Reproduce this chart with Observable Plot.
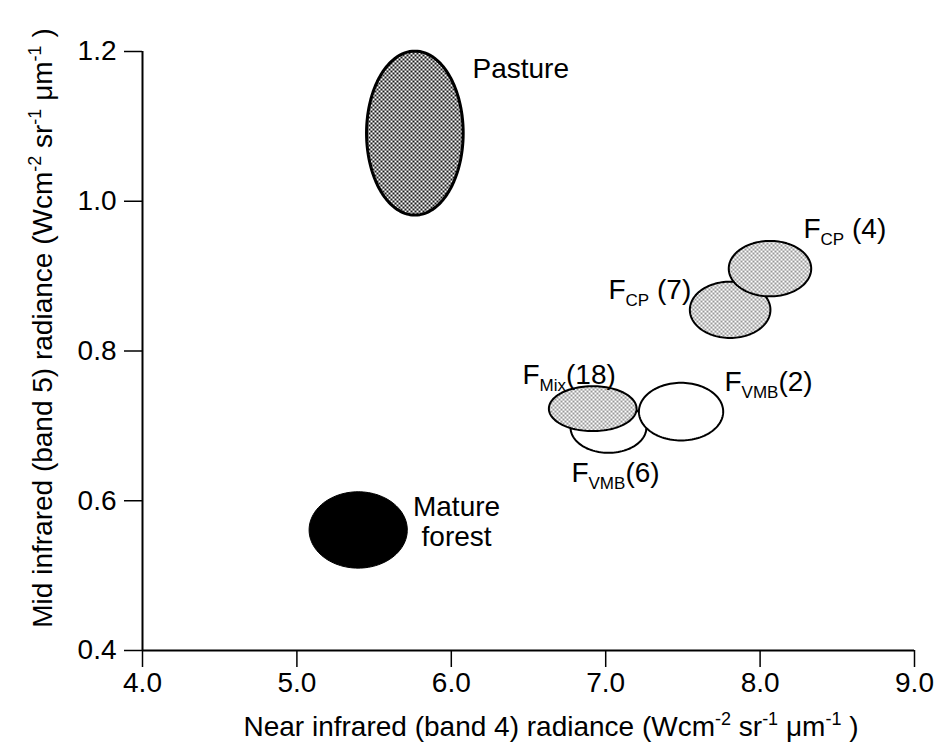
<!DOCTYPE html>
<html><head><meta charset="utf-8">
<script src="https://cdn.jsdelivr.net/npm/d3@7"></script>
<script src="https://cdn.jsdelivr.net/npm/@observablehq/plot@0.6"></script>
<style>body{margin:0;background:#fff;} #chart svg{display:block;}</style>
</head><body><div id="chart"></div>
<script>
// ---- data ----
const ellipseNames = ["Pasture", "Mature forest", "F_VMB(6)", "F_Mix(18)", "F_VMB(2)", "F_CP(7)", "F_CP(4)"];
const centerX = [5.764, 5.397, 7.018, 6.916, 7.488, 7.806, 8.064];
const centerY = [1.091, 0.561, 0.698, 0.723, 0.719, 0.855, 0.910];
const radiusX = [0.313, 0.318, 0.246, 0.284, 0.273, 0.261, 0.267];
const radiusY = [0.1095, 0.051, 0.034, 0.030, 0.0385, 0.0376, 0.037];

const labelTexts = ["Pasture", "F_CP (4)", "F_CP (7)", "F_Mix(18)", "F_VMB(2)", "F_VMB(6)"];
const labelX = [6.137, 8.281, 7.018, 6.461, 7.769, 6.778];
const labelY = [1.177, 0.963, 0.882, 0.768, 0.759, 0.637];
const centeredLabel = ["Mature\nforest"];
const centeredLabelX = [6.034];
const centeredLabelY = [0.573];

const xTicks = [4, 5, 6, 7, 8, 9];
const yTicks = [0.4, 0.6, 0.8, 1.0, 1.2];

// ---- styles ----
const ellipseFill = {"Pasture": "url(#stippleDark)", "Mature forest": "black", "F_VMB(6)": "white",
  "F_Mix(18)": "url(#stippleLight)", "F_VMB(2)": "white", "F_CP(7)": "url(#stippleLight)", "F_CP(4)": "url(#stippleLight)"};
const ellipseStroke = {"Pasture": 3, "Mature forest": 1};

const font = "'Liberation Sans', Arial, Helvetica, sans-serif";

function outline(i) {
  // closed outline of the ellipse defined by centre and radii
  return d3.range(0, 360, 3).map(a => ({
    x: centerX[i] + radiusX[i] * Math.cos(a * Math.PI / 180),
    y: centerY[i] + radiusY[i] * Math.sin(a * Math.PI / 180)
  }));
}

const ellipseMarks = ellipseNames.map((name, i) => Plot.line(outline(i), {
  x: "x", y: "y", curve: "linear-closed",
  fill: ellipseFill[name], stroke: "black", strokeWidth: ellipseStroke[name] ?? 2
}));

const labels = labelTexts.map((t, i) => ({t, x: labelX[i], y: labelY[i]}));
const cLabels = centeredLabel.map((t, i) => ({t, x: centeredLabelX[i], y: centeredLabelY[i]}));

const chart = Plot.plot({
  width: 940, height: 751,
  marginLeft: 142, marginRight: 26, marginTop: 51, marginBottom: 101,
  style: {fontFamily: font, fontSize: "28px", color: "black", background: "white"},
  x: {domain: [4, 9]},
  y: {domain: [0.4, 1.2]},
  marks: [
    ...ellipseMarks,
    Plot.text(labels, {x: "x", y: "y", text: "t", textAnchor: "start", lineAnchor: "middle", fontSize: 28, fill: "black"}),
    Plot.text(cLabels, {x: "x", y: "y", text: "t", textAnchor: "middle", lineAnchor: "middle", fontSize: 28, lineHeight: 1.07, fill: "black"}),
    Plot.ruleX([4], {strokeWidth: 2}),
    Plot.ruleY([0.4], {strokeWidth: 2}),
    Plot.axisX({ticks: xTicks, tickFormat: d => d.toFixed(1), tickSize: 17, tickPadding: 5, fontSize: 28, strokeWidth: 1.5, label: null}),
    Plot.axisY({ticks: yTicks, tickFormat: d => d.toFixed(1), tickSize: 18, tickPadding: 8, fontSize: 28, strokeWidth: 1.5, label: null})
  ]
});

document.getElementById("chart").appendChild(chart);

const svg = d3.select(chart);
// stipple patterns
const defs = svg.insert("defs", ":first-child");
const dark = defs.append("pattern").attr("id", "stippleDark").attr("patternUnits", "userSpaceOnUse").attr("width", 4).attr("height", 4);
dark.append("rect").attr("width", 4).attr("height", 4).attr("fill", "white");
dark.append("rect").attr("x", 0).attr("y", 0).attr("width", 2).attr("height", 2).attr("fill", "#1a1a1a");
dark.append("rect").attr("x", 2).attr("y", 2).attr("width", 2).attr("height", 2).attr("fill", "#1a1a1a");
const light = defs.append("pattern").attr("id", "stippleLight").attr("patternUnits", "userSpaceOnUse").attr("width", 4).attr("height", 4);
light.append("rect").attr("width", 4).attr("height", 4).attr("fill", "white");
light.append("circle").attr("cx", 1).attr("cy", 1).attr("r", 0.85).attr("fill", "#333");
light.append("circle").attr("cx", 3).attr("cy", 3).attr("r", 0.85).attr("fill", "#333");

// subscripts in the forest-class labels
svg.selectAll("text").each(function() {
  const el = d3.select(this);
  if (el.selectAll("tspan").size() > 0) return;
  const m = /^F_([A-Za-z]+)(.*)$/.exec(this.textContent);
  if (!m) return;
  el.text(null);
  el.append("tspan").text("F");
  el.append("tspan").attr("font-size", 17).attr("dy", 7).text(m[1]);
  el.append("tspan").attr("dy", -7).text(m[2]);
});

// axis titles with superscripts
function addTitle(g, parts) {
  let shift = 0;
  for (const [txt, sup] of parts) {
    g.append("tspan").attr("dy", -shift).text(txt);
    shift = 0;
    if (sup) {
      g.append("tspan").attr("font-size", 18).attr("dy", -11).text(sup);
      shift = -11;
    }
  }
}
const xt = svg.append("text").attr("x", 551).attr("y", 736).attr("text-anchor", "middle")
  .attr("font-size", 28).attr("fill", "black").attr("font-family", font);
addTitle(xt, [["Near infrared (band 4) radiance (Wcm", "-2"], [" sr", "-1"], [" \u03BCm", "-1"], [" )", null]]);
const yt = svg.append("text").attr("transform", "translate(52,328) rotate(-90)").attr("text-anchor", "middle")
  .attr("font-size", 28).attr("fill", "black").attr("font-family", font);
addTitle(yt, [["Mid infrared (band 5) radiance (Wcm", "-2"], [" sr", "-1"], [" \u03BCm", "-1"], [" )", null]]);
</script>
</body></html>
